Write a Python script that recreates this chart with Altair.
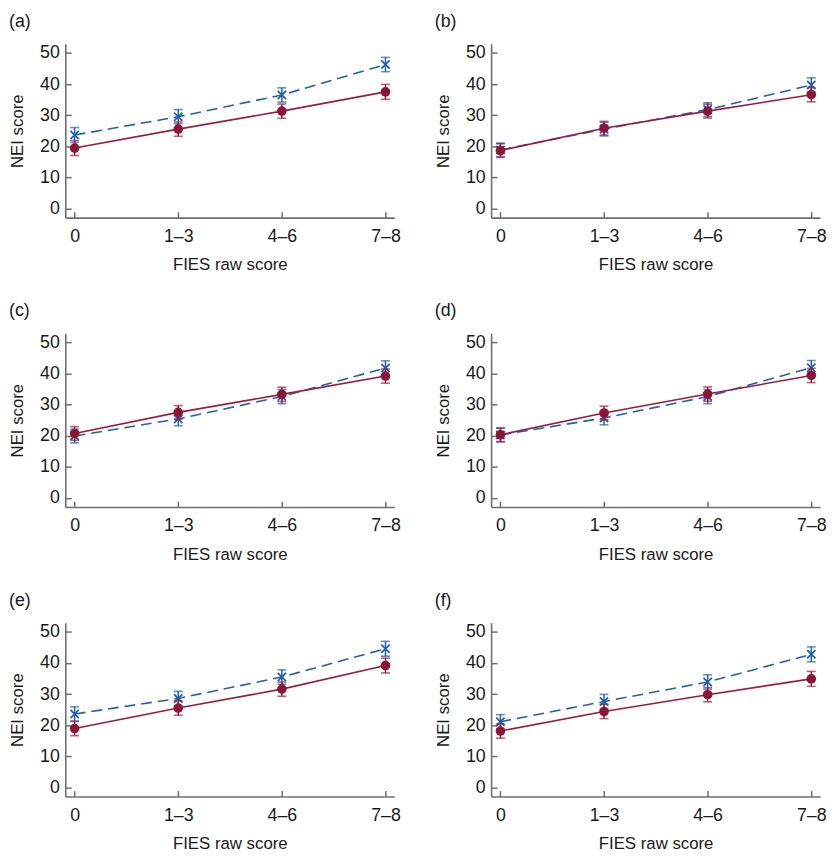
import altair as alt
import pandas as pd

panels = ["(a)", "(b)", "(c)", "(d)", "(e)", "(f)"]
categories = ["0", "1–3", "4–6", "7–8"]

red_vals = [
    [19.4, 25.5, 31.3, 37.5],
    [18.6, 25.8, 31.3, 36.6],
    [20.7, 27.5, 33.3, 39.2],
    [20.3, 27.3, 33.4, 39.4],
    [18.9, 25.5, 31.6, 39.2],
    [18.1, 24.4, 29.8, 34.9],
]
red_err = [
    [2.4, 2.3, 2.3, 2.4],
    [2.2, 2.2, 2.2, 2.3],
    [2.2, 2.2, 2.3, 2.3],
    [2.2, 2.2, 2.3, 2.3],
    [2.3, 2.3, 2.3, 2.4],
    [2.3, 2.3, 2.3, 2.4],
]
blue_vals = [
    [23.6, 29.5, 36.5, 46.3],
    [18.8, 25.5, 31.8, 39.7],
    [19.9, 25.4, 32.6, 41.8],
    [20.2, 25.7, 32.6, 41.9],
    [23.6, 28.6, 35.5, 44.6],
    [21.1, 27.6, 33.9, 42.8],
]
blue_err = [
    [2.4, 2.3, 2.3, 2.3],
    [2.2, 2.2, 2.2, 2.3],
    [2.2, 2.2, 2.3, 2.3],
    [2.2, 2.2, 2.3, 2.3],
    [2.3, 2.3, 2.3, 2.4],
    [2.3, 2.3, 2.3, 2.4],
]

RED = "#9c1c3e"
RED_PT = "#8a1537"
BLUE = "#2160ad"
AXIS = "#6f6f6f"
TEXT = "#1a1a1a"
FONT = "Liberation Sans"
W, H = 333, 176

label_expr = "['0','1–3','4–6','7–8'][datum.value]"

x_scale = alt.Scale(domain=[-0.09, 3.085], nice=False, zero=False)
y_scale = alt.Scale(domain=[-3, 53], nice=False, zero=False)
x_axis = alt.Axis(values=[0, 1, 2, 3], labelExpr=label_expr, title="FIES raw score",
                  gridDash=[6, H - 6], gridDashOffset=6, labelPadding=10, titlePadding=12)
y_axis = alt.Axis(values=[0, 10, 20, 30, 40, 50], title="NEI score",
                  gridDash=[6, 2000], labelPadding=6, titlePadding=13)


def make_panel(i):
    rows = []
    for g, vals, errs in (("blue", blue_vals[i], blue_err[i]), ("red", red_vals[i], red_err[i])):
        for k in range(4):
            rows.append({"g": g, "xi": k, "cat": categories[k], "y": vals[k],
                         "lo": vals[k] - errs[k], "hi": vals[k] + errs[k]})
    df = pd.DataFrame(rows)
    base = alt.Chart(df)
    x = alt.X("xi:Q", scale=x_scale, axis=x_axis)
    y = alt.Y("y:Q", scale=y_scale, axis=y_axis)
    ylo = alt.Y("lo:Q", scale=y_scale, axis=y_axis)
    yhi = alt.Y("hi:Q", scale=y_scale, axis=y_axis)

    layers = []
    for g, col, ptcol in (("blue", BLUE, BLUE), ("red", RED, RED_PT)):
        b = base.transform_filter(alt.datum.g == g)
        if g == "blue":
            line = b.mark_line(color=col, strokeWidth=1.6, strokeDash=[11, 6]).encode(x=x, y=y)
        else:
            line = b.mark_line(color=col, strokeWidth=1.6).encode(x=x, y=y)
        rule = b.mark_rule(color=col, strokeWidth=1.5).encode(x=x, y=ylo, y2="hi:Q")
        cap_lo = b.mark_tick(color=col, orient="horizontal", size=9, thickness=1.6).encode(x=x, y=ylo)
        cap_hi = b.mark_tick(color=col, orient="horizontal", size=9, thickness=1.6).encode(x=x, y=yhi)
        if g == "blue":
            pt = b.mark_point(shape="M-1,-1L1,1M-1,1L1,-1", color=ptcol, size=70, strokeWidth=1.8,
                              opacity=1).encode(x=x, y=y)
        else:
            pt = b.mark_circle(color=ptcol, size=95, opacity=1).encode(x=x, y=y)
        layers += [line, rule, cap_lo, cap_hi, pt]

    return alt.layer(*layers).properties(
        width=W, height=H,
        title=alt.TitleParams(panels[i], anchor="start", frame="bounds", fontSize=18,
                              fontWeight="normal", font=FONT, offset=13, color=TEXT),
    )


rows_ = []
for r in range(3):
    rows_.append(alt.hconcat(make_panel(2 * r), make_panel(2 * r + 1), spacing=33))

chart = alt.vconcat(*rows_, spacing=30).configure(
    padding={"left": 0, "top": 0, "right": 0, "bottom": 0},
    font=FONT,
).configure_view(stroke=None).configure_axis(
    domainColor=AXIS, domainWidth=1.6,
    ticks=False,
    grid=True, gridColor=AXIS, gridWidth=1.5,
    labelOverlap=False,
    labelFont=FONT, labelFontSize=18, labelColor=TEXT,
    titleFont=FONT, titleFontSize=17, titleFontWeight="normal", titleColor=TEXT,
)

chart.save("out.html", embed_options={"renderer": "svg", "actions": False})
